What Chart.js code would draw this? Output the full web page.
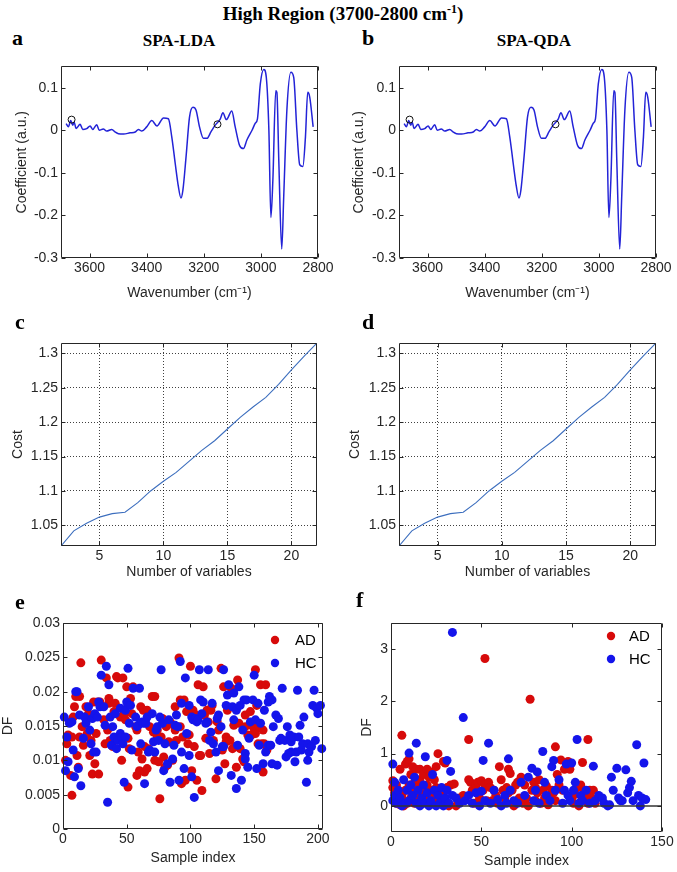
<!DOCTYPE html>
<html>
<head>
<meta charset="utf-8">
<script src="https://cdn.jsdelivr.net/npm/chart.js@4.4.1/dist/chart.umd.min.js"></script>
<style>
  body { margin: 0; background: #fff; }
  #fig { position: relative; width: 677px; height: 872px; overflow: hidden; background: #fff; }
  #fig canvas { position: absolute; }
  .lb { position: absolute; font-family: "Liberation Serif", "Times New Roman", serif; font-weight: bold;
        line-height: 1; white-space: nowrap; color: #000; z-index: 2; }
  .sup { font-size: 12px; vertical-align: 7px; line-height: 0; }
</style>
</head>
<body>
<div id="fig">
  <canvas id="pa"></canvas>
  <canvas id="pb"></canvas>
  <canvas id="pc"></canvas>
  <canvas id="pd"></canvas>
  <canvas id="pe"></canvas>
  <canvas id="pf"></canvas>

  <div class="lb" style="left:343px;top:3.6px;font-size:19px;transform:translateX(-50%)">High Region (3700-2800 cm<span class="sup">-1</span>)</div>
  <div class="lb" style="left:12px;top:26.6px;font-size:22px">a</div>
  <div class="lb" style="left:179px;top:31.8px;font-size:17px;transform:translateX(-50%)">SPA-LDA</div>
  <div class="lb" style="left:362px;top:26.6px;font-size:22px">b</div>
  <div class="lb" style="left:534px;top:31.8px;font-size:17px;transform:translateX(-50%)">SPA-QDA</div>
  <div class="lb" style="left:15px;top:310.6px;font-size:22px">c</div>
  <div class="lb" style="left:362px;top:310.6px;font-size:22px">d</div>
  <div class="lb" style="left:15px;top:590.6px;font-size:22px">e</div>
  <div class="lb" style="left:356px;top:588.6px;font-size:22px">f</div>
</div>

<script>
// ---- spectrum of SPA coefficients (a, b) ----
const wavenumbers = [3682,3674,3666,3659,3654,3647,3633,3624,3610,3598,
  3589,3575,3566,3552,3540,3522,3511,3499,3481,3458,
  3440,3429,3417,3400,3382,3364,3341,3324,3312,3300,
  3289,3280,3273,3262,3250,3238,3227,3215,3201,3189,
  3175,3160,3142,3133,3121,3102,3090,3075,3061,3049,
  3031,3020,3012,3002,2990,2981,2972,2965,2958,2948,
  2944,2937,2927,2920,2909,2895,2885,2874,2864,2853,
  2844,2836,2829,2817];
const coefficients = [0.0155,0.008,0.023,0.012,0.019,0.004,0.014,0.002,0.004,0.010,
  0.002,0.013,0,0.003,-0.002,0.002,-0.004,-0.008,-0.009,-0.006,
  -0.004,0.002,-0.002,0.008,0.023,0.010,0.029,0.027,-0.016,-0.078,
  -0.132,-0.159,-0.140,-0.062,0.031,0.054,0.047,0.008,-0.019,-0.019,
  -0.004,0.012,0.027,0.041,0.025,0.045,0.008,-0.035,-0.043,-0.023,
  0,0.016,0.027,0.109,0.143,0.124,0,-0.205,-0.116,0.093,
  0.089,-0.078,-0.279,-0.155,0.047,0.136,0.124,0,-0.081,-0.085,
  -0.016,0.089,0.078,0.008];
const selectedWn = [3663, 3152];
const selectedCoef = [0.025, 0.014];

// ---- cost vs number of variables (c, d) ----
const nVariables = [2,3,4,5,6,7,8,9,10,11,12,13,14,15,16,17,18,19,20,21,22];
const cost = [1.020,1.042,1.053,1.062,1.067,1.069,1.083,1.100,1.114,1.127,1.143,
  1.159,1.173,1.190,1.207,1.222,1.236,1.255,1.276,1.296,1.315];

// ---- discriminant function, LDA (e): [sample index, DF] ----
const adE = [[2,0.0100],[3,0.0124],[4,0.0137],[5,0.0156],[6,0.0078],[7,0.0049],[7,0.0134],[8,0.0163],[9,0.0178],[10,0.0193],
  [11,0.0107],[12,0.0090],[13,0.0193],[13,0.0134],[14,0.0242],[15,0.0149],[16,0.0122],[18,0.0178],[19,0.0139],[20,0.0168],
  [21,0.0107],[22,0.0129],[23,0.0080],[24,0.0185],[25,0.0095],[26,0.0139],[27,0.0185],[28,0.0080],[29,0.0185],[30,0.0246],
  [32,0.0159],[33,0.0124],[34,0.0220],[35,0.0144],[36,0.0183],[36,0.0190],[37,0.0129],[39,0.0120],[40,0.0171],[41,0.0183],
  [42,0.0222],[43,0.0220],[44,0.0134],[45,0.0163],[46,0.0100],[47,0.0220],[48,0.0168],[49,0.0159],[50,0.0207],[51,0.0132],
  [51,0.0061],[52,0.0117],[53,0.0190],[54,0.0168],[55,0.0207],[57,0.0149],[58,0.0144],[58,0.0078],[59,0.0112],[60,0.0085],
  [61,0.0178],[62,0.0102],[63,0.0173],[64,0.0120],[64,0.0083],[66,0.0173],[66,0.0088],[67,0.0117],[68,0.0149],[70,0.0193],
  [71,0.0141],[72,0.0100],[72,0.0193],[74,0.0134],[74,0.0144],[75,0.0098],[76,0.0044],[77,0.0134],[78,0.0161],[79,0.0105],
  [80,0.0090],[81,0.0149],[82,0.0093],[83,0.0127],[84,0.0156],[86,0.0100],[87,0.0151],[88,0.0178],[88,0.0144],[89,0.0129],
  [91,0.0249],[92,0.0188],[92,0.0149],[93,0.0066],[94,0.0134],[95,0.0188],[96,0.0071],[97,0.0171],[98,0.0124],[99,0.0137],
  [100,0.0237],[101,0.0085],[102,0.0173],[103,0.0120],[104,0.0166],[105,0.0071],[106,0.0210],[107,0.0107],[108,0.0107],[109,0.0056],
  [110,0.0207],[111,0.0166],[112,0.0132],[113,0.0173],[114,0.0156],[115,0.0110],[116,0.0173],[117,0.0180],[118,0.0129],[120,0.0073],
  [121,0.0156],[122,0.0144],[124,0.0234],[125,0.0115],[126,0.0207],[127,0.0095],[128,0.0134],[128,0.0127],[129,0.0173],[131,0.0129],
  [132,0.0205],[133,0.0117],[134,0.0151],[135,0.0120],[136,0.0090],[137,0.0217],[138,0.0154],[139,0.0117],[141,0.0102],[142,0.0098],
  [143,0.0149],[143,0.0166],[145,0.0137],[146,0.0134],[147,0.0171],[148,0.0137],[149,0.0149],[150,0.0141],[151,0.0139],[151,0.0232],
  [152,0.0180],[153,0.0124],[154,0.0149],[155,0.0210],[156,0.0124],[157,0.0144],[157,0.0083],[158,0.0124],[159,0.0210],[160,0.0115],
  [161,0.0120]];
const hcE = [[1,0.0163],[2,0.0085],[3,0.0134],[4,0.0098],[5,0.0154],[7,0.0156],[8,0.0115],[9,0.0076],[10,0.0200],[11,0.0200],
  [12,0.0088],[13,0.0166],[14,0.0063],[16,0.0132],[17,0.0163],[18,0.0154],[20,0.0178],[21,0.0144],[22,0.0124],[23,0.0161],
  [24,0.0112],[25,0.0168],[26,0.0112],[27,0.0163],[28,0.0185],[29,0.0178],[30,0.0224],[32,0.0178],[33,0.0151],[34,0.0237],
  [35,0.0039],[36,0.0210],[37,0.0163],[38,0.0122],[39,0.0149],[40,0.0134],[41,0.0168],[42,0.0117],[43,0.0129],[45,0.0139],
  [45,0.0176],[46,0.0134],[47,0.0124],[48,0.0068],[49,0.0134],[49,0.0173],[50,0.0185],[51,0.0234],[52,0.0154],[53,0.0180],
  [54,0.0115],[55,0.0205],[57,0.0163],[58,0.0149],[59,0.0151],[60,0.0205],[61,0.0124],[62,0.0156],[63,0.0154],[64,0.0066],
  [65,0.0154],[66,0.0163],[67,0.0112],[68,0.0115],[70,0.0168],[71,0.0127],[72,0.0112],[73,0.0144],[74,0.0149],[75,0.0129],
  [76,0.0163],[77,0.0232],[78,0.0154],[79,0.0085],[80,0.0124],[82,0.0095],[83,0.0159],[84,0.0068],[86,0.0102],[87,0.0122],
  [88,0.0151],[89,0.0166],[90,0.0149],[91,0.0071],[92,0.0244],[93,0.0183],[93,0.0112],[95,0.0088],[96,0.0220],[97,0.0139],
  [99,0.0180],[99,0.0107],[101,0.0163],[101,0.0076],[102,0.0159],[103,0.0046],[104,0.0161],[105,0.0156],[106,0.0159],[107,0.0232],
  [108,0.0188],[109,0.0168],[110,0.0185],[112,0.0154],[113,0.0156],[114,0.0232],[115,0.0129],[116,0.0141],[117,0.0183],[118,0.0124],
  [120,0.0112],[121,0.0161],[122,0.0166],[122,0.0085],[124,0.0149],[125,0.0120],[126,0.0232],[126,0.0120],[128,0.0180],[129,0.0195],
  [130,0.0210],[132,0.0078],[133,0.0178],[134,0.0198],[134,0.0159],[136,0.0173],[136,0.0059],[137,0.0122],[138,0.0207],[139,0.0180],
  [140,0.0071],[141,0.0144],[142,0.0188],[143,0.0110],[143,0.0102],[144,0.0188],[145,0.0090],[146,0.0132],[147,0.0156],[149,0.0188],
  [150,0.0224],[151,0.0159],[152,0.0088],[153,0.0183],[154,0.0122],[155,0.0154],[157,0.0095],[158,0.0173],[159,0.0112],[161,0.0185],
  [161,0.0122],[162,0.0193],[163,0.0122],[164,0.0095],[164,0.0188],[165,0.0149],[167,0.0166],[168,0.0093],[169,0.0161],[170,0.0129],
  [171,0.0132],[172,0.0205],[174,0.0129],[175,0.0105],[176,0.0149],[177,0.0110],[178,0.0137],[179,0.0112],[179,0.0127],[181,0.0134],
  [182,0.0098],[183,0.0112],[184,0.0202],[185,0.0134],[186,0.0151],[187,0.0115],[188,0.0124],[189,0.0163],[191,0.0068],[192,0.0100],
  [192,0.0124],[193,0.0112],[195,0.0120],[196,0.0180],[197,0.0202],[198,0.0129],[199,0.0176],[200,0.0168],[202,0.0180],[203,0.0117]];

// ---- discriminant function, QDA (f) ----
const adF = [[1,0.48],[1,0.35],[2,0.25],[2,0.1],[3,0.4],[3,0.05],[4,0.3],[4,0.15],[5,0.7],[5,0.02],
  [6,1.35],[6,0.2],[7,0.1],[7,0.0],[8,0.8],[8,0.3],[9,0.85],[9,0.05],[10,0.9],[10,0.4],
  [11,0.15],[11,0.6],[12,0.75],[12,0.3],[13,0.05],[13,0.45],[14,0.7],[14,0.2],[15,0.1],[15,0.35],
  [16,0.7],[16,0.5],[17,0.25],[17,0.05],[18,0.3],[18,0.6],[19,0.15],[20,0.7],[20,0.4],[21,0.55],
  [21,0.1],[22,0.65],[22,0.3],[23,0.2],[24,0.5],[24,0.05],[25,0.75],[25,0.35],[26,1.0],[26,0.25],
  [27,0.1],[28,0.2],[29,0.85],[30,0.82],[30,0.05],[31,0.35],[32,0.0],[33,0.4],[35,0.42],[36,0.0],
  [38,0.15],[40,0.2],[41,0.12],[43,1.27],[43,0.5],[44,0.45],[45,0.3],[46,0.05],[47,0.4],[48,0.45],
  [49,0.15],[50,0.48],[51,0.3],[52,2.82],[52,0.4],[53,0.1],[54,0.45],[55,0.35],[56,0.1],[57,0.3],
  [58,0.2],[59,0.05],[60,0.75],[61,0.5],[62,0.3],[63,0.15],[64,0.35],[65,0.7],[65,0.25],[66,0.62],
  [67,0.3],[68,0.0],[69,0.4],[70,0.45],[71,0.15],[72,0.55],[73,0.05],[74,0.4],[75,0.15],[76,0.0],
  [77,2.04],[78,0.3],[79,0.45],[80,0.35],[80,0.1],[81,0.25],[82,0.5],[83,0.05],[84,0.3],[85,0.15],
  [86,0.38],[87,0.02],[88,0.2],[89,0.3],[90,0.25],[91,1.13],[91,0.1],[92,0.6],[93,0.4],[94,0.88],
  [95,0.3],[96,0.7],[97,0.72],[98,0.85],[99,0.7],[100,0.15],[101,0.05],[102,0.22],[103,0.35],[104,0.0],
  [105,0.4],[106,0.83],[107,0.3],[108,0.2],[109,1.27],[109,0.05],[110,0.3],[111,0.15],[112,0.3],[113,0.05]];
const hcF = [[1,0.8],[1,0.1],[2,0.2],[2,0.45],[3,0.05],[4,0.3],[5,0.15],[6,0.0],[7,0.5],[8,0.05],
  [9,0.3],[10,1.01],[10,0.1],[11,0.4],[12,0.2],[13,0.55],[14,1.2],[14,0.05],[15,0.3],[16,0.0],
  [17,0.15],[18,0.4],[19,0.94],[19,0.05],[20,0.25],[21,0.0],[22,0.1],[23,0.6],[24,0.3],[25,0.0],
  [26,0.2],[27,0.05],[28,0.35],[29,0.0],[30,0.15],[31,0.87],[31,0.3],[32,0.05],[33,0.66],[34,3.32],
  [34,0.2],[36,0.15],[38,0.05],[40,1.69],[41,0.1],[43,0.2],[45,0.05],[47,0.25],[49,0.0],[50,0.28],
  [51,0.87],[52,0.1],[54,1.2],[55,0.05],[57,0.3],[59,0.12],[61,0.0],[63,0.2],[64,0.05],[65,0.9],
  [66,0.3],[68,0.1],[70,0.05],[72,0.45],[74,0.2],[76,0.55],[78,0.72],[79,0.1],[80,0.3],[81,0.65],
  [82,0.05],[84,1.04],[85,0.45],[86,0.2],[88,0.1],[89,0.75],[90,0.87],[91,0.3],[93,0.5],[95,0.05],
  [96,0.3],[97,0.8],[98,0.2],[99,0.1],[100,0.82],[101,0.3],[102,0.45],[103,1.27],[104,0.05],[105,0.2],
  [106,0.1],[108,0.3],[110,0.05],[112,0.76],[113,0.1],[115,0.2],[117,0.15],[118,0.05],[120,0.0],[121,0.02],
  [122,0.55],[123,0.3],[125,0.72],[126,0.15],[127,0.1],[128,0.1],[130,0.69],[131,0.25],[132,0.35],[133,0.47],
  [134,0.1],[136,1.17],[137,0.2],[138,0.0],[139,0.15],[140,0.82],[141,0.12]];
const zeroLineF = [[0,0],[150,0]];

// ---- tick values ----
const wnTicks = [2800,3000,3200,3400,3600];
const coefTicks = [-0.3,-0.2,-0.1,0,0.1];
const nvTicks = [5,10,15,20];
const costTicks = [1.05,1.1,1.15,1.2,1.25,1.3];
const idxTicksE = [0,50,100,150,200];
const dfTicksE = [0,0.005,0.01,0.015,0.02,0.025,0.03];
const idxTicksF = [0,50,100,150];
const dfTicksF = [0,1,2,3];

const INK = '#262626';
const SANS = "'Liberation Sans', Arial, sans-serif";
const RED = 'rgb(215,10,10)';
const BLUE = 'rgb(20,20,235)';

const pts = (xs, ys) => xs.map((v, i) => ({x: v, y: ys[i]}));
const pairs = arr => arr.map(p => ({x: p[0], y: p[1]}));

// axes box with inward ticks on all four sides, like matlab
const frame = {
  id: 'frame',
  afterDraw(chart) {
    const {ctx, chartArea: a, scales: {x, y}} = chart;
    const L = 4;
    const l = Math.round(a.left) + 0.5, r = Math.round(a.right) - 0.5;
    const t = Math.round(a.top) + 0.5, b = Math.round(a.bottom) - 0.5;
    ctx.save();
    ctx.strokeStyle = INK;
    ctx.lineWidth = 1;
    ctx.beginPath();
    x.ticks.forEach(tk => {
      const p = Math.round(x.getPixelForValue(tk.value)) + 0.5;
      ctx.moveTo(p, b); ctx.lineTo(p, b - L);
      ctx.moveTo(p, t); ctx.lineTo(p, t + L);
    });
    y.ticks.forEach(tk => {
      const p = Math.round(y.getPixelForValue(tk.value)) + 0.5;
      ctx.moveTo(l, p); ctx.lineTo(l + L, p);
      ctx.moveTo(r, p); ctx.lineTo(r - L, p);
    });
    ctx.rect(l, t, r - l, b - t);
    ctx.stroke();
    ctx.restore();
  }
};

// boxless legend inside the top right corner
const dotLegend = {
  id: 'dotLegend',
  afterDraw(chart, args, o) {
    if (!o || !o.show) return;
    const {ctx, chartArea: a} = chart;
    ctx.save();
    o.items.forEach((dsIdx, i) => {
      const d = chart.data.datasets[dsIdx];
      const cx = a.right - o.dx, cy = a.top + o.dy + i * o.gap;
      ctx.fillStyle = d.backgroundColor;
      ctx.beginPath(); ctx.arc(cx, cy, 4.2, 0, Math.PI * 2); ctx.fill();
      ctx.fillStyle = '#000';
      ctx.font = '15px ' + SANS;
      ctx.textBaseline = 'middle';
      ctx.fillText(d.label, cx + o.tx, cy + 1);
    });
    ctx.restore();
  }
};

function build(id, g, o) {
  const cv = document.getElementById(id);
  cv.width = g.w; cv.height = g.h;
  cv.style.left = g.x + 'px'; cv.style.top = g.y + 'px';
  const axis = s => ({
    type: 'linear', min: s.min, max: s.max, reverse: !!s.reverse,
    afterBuildTicks: sc => { sc.ticks = s.ticks.map(v => ({value: v})); },
    grid: {display: !!o.grid, drawTicks: false, color: 'rgba(0,0,0,0.75)', lineWidth: 1},
    border: {display: false, dash: [1, 2]},
    ticks: {font: {family: SANS, size: 14}, color: INK, padding: s.pad, autoSkip: false,
            maxRotation: 0, callback: v => String(v)},
    title: {display: true, text: s.title, font: {family: SANS, size: 14}, color: INK,
            padding: {top: s.tp || 0, bottom: s.tb || 0}}
  });
  const x = axis(o.x);
  x.afterFit = sc => { sc.height = g.y + g.h - g.b; };
  const y = axis(o.y);
  y.afterFit = sc => { sc.width = g.l - g.x; };
  return new Chart(cv, {
    type: 'scatter',
    data: {datasets: o.datasets},
    options: {
      responsive: false, animation: false, events: [],
      layout: {padding: {left: 0, top: g.t - g.y, right: g.x + g.w - g.r, bottom: 0}},
      scales: {x, y},
      plugins: {legend: {display: false}, tooltip: {enabled: false}, dotLegend: o.legend || {show: false}}
    },
    plugins: [frame, dotLegend]
  });
}

function spectrumSets() {
  return [
    {data: pts(selectedWn, selectedCoef), order: 1, pointRadius: 3.5, pointBorderWidth: 1,
     pointBorderColor: '#111', pointBackgroundColor: 'rgba(0,0,0,0)', showLine: false},
    {data: pts(wavenumbers, coefficients), order: 2, showLine: true, pointRadius: 0,
     borderColor: 'rgb(35,35,215)', borderWidth: 1.5, cubicInterpolationMode: 'monotone'}
  ];
}
function costSets() {
  return [{data: pts(nVariables, cost), showLine: true, pointRadius: 0,
           borderColor: 'rgb(60,110,190)', borderWidth: 1.1}];
}
function dfSets(ad, hc, extra) {
  const dot = (label, data, color, order) => ({label, data: pairs(data), order, pointRadius: 4.5,
    pointBorderWidth: 0, backgroundColor: color, pointBackgroundColor: color, clip: false});
  const sets = [dot('AD', ad, RED, 3), dot('HC', hc, BLUE, 2)];
  if (extra) sets.push(extra);
  return sets;
}

const wnAxis = {min: 2800, max: 3700, reverse: true, ticks: wnTicks, pad: 2, title: 'Wavenumber (cm\u207B\u00B9)', tb: 3};
const coefAxis = {min: -0.3, max: 0.15, ticks: coefTicks, pad: 3, title: 'Coefficient (a.u.)'};

build('pa', {x: 0, y: 55, w: 338, h: 250, l: 61, t: 66, r: 318, b: 258},
  {x: wnAxis, y: Object.assign({}, coefAxis, {tp: 14}), datasets: spectrumSets()});
build('pb', {x: 338, y: 55, w: 339, h: 250, l: 399, t: 66, r: 656, b: 258},
  {x: wnAxis, y: Object.assign({}, coefAxis, {tp: 13}), datasets: spectrumSets()});

const nvAxis = {min: 2, max: 22, ticks: nvTicks, pad: 2, title: 'Number of variables', tb: 9};
const costAxis = {min: 1.02, max: 1.315, ticks: costTicks, pad: 3, title: 'Cost'};
build('pc', {x: 0, y: 330, w: 338, h: 260, l: 61, t: 343, r: 317, b: 546},
  {grid: true, x: nvAxis, y: Object.assign({}, costAxis, {tp: 10}), datasets: costSets()});
build('pd', {x: 338, y: 330, w: 339, h: 260, l: 399, t: 343, r: 656, b: 546},
  {grid: true, x: nvAxis, y: Object.assign({}, costAxis, {tp: 9}), datasets: costSets()});

build('pe', {x: 0, y: 610, w: 338, h: 262, l: 63, t: 623, r: 323, b: 829},
  {x: {min: 0, max: 204, ticks: idxTicksE, pad: 2, title: 'Sample index', tb: 5},
   y: {min: 0, max: 0.03, ticks: dfTicksE, pad: 3, title: 'DF', tp: 0},
   datasets: dfSets(adE, hcE),
   legend: {show: true, items: [0, 1], dx: 48, dy: 17, gap: 23, tx: 20}});

build('pf', {x: 338, y: 610, w: 339, h: 262, l: 391, t: 623, r: 662, b: 832},
  {x: {min: 0, max: 150, ticks: idxTicksF, pad: 2, title: 'Sample index', tb: 2},
   y: {min: -0.5, max: 3.5, ticks: dfTicksF, pad: 3, title: 'DF', tp: 21},
   datasets: dfSets(adF, hcF, {data: pairs(zeroLineF), order: 1, showLine: true, pointRadius: 0,
                               borderColor: '#333', borderWidth: 1.5}),
   legend: {show: true, items: [0, 1], dx: 51, dy: 13, gap: 23, tx: 18}});
</script>
</body>
</html>
